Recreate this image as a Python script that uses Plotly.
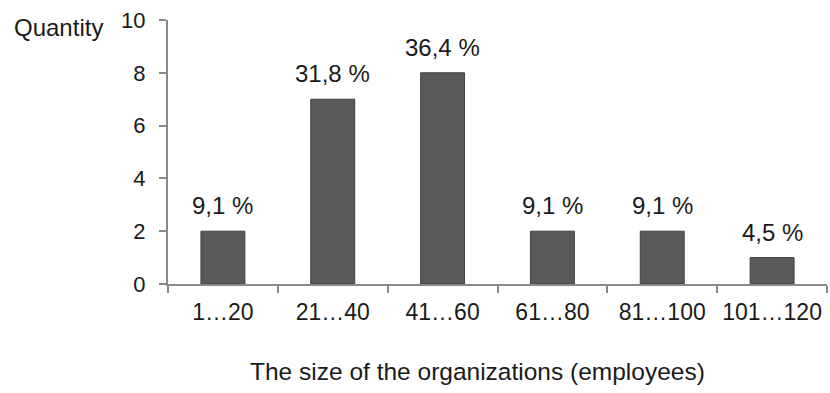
import plotly.graph_objects as go

# Organization size groups (number of employees) and counts
size_groups = ["1…20", "21…40", "41…60", "61…80", "81…100", "101…120"]
quantities = [2, 7, 8, 2, 2, 1]
share_labels = ["9,1 %", "31,8 %", "36,4 %", "9,1 %", "9,1 %", "4,5 %"]

FONT = "Liberation Sans, Arial, sans-serif"
AXIS_GRAY = "#8a8a8a"
TEXT = "#1a1a1a"

fig = go.Figure()
fig.add_trace(go.Bar(
    x=size_groups,
    y=quantities,
    marker=dict(color="#595959", line=dict(color="#404040", width=1)),
    width=0.4,
    hoverinfo="skip",
))

# Percentage share above each bar
for g, q, lab in zip(size_groups, quantities, share_labels):
    fig.add_annotation(
        x=g, y=q, text=lab, showarrow=False,
        yanchor="bottom", yshift=10,
        font=dict(family=FONT, size=24, color=TEXT),
    )

# Axis captions
fig.add_annotation(
    xref="paper", yref="paper", x=(12 - 168) / 659, y=1.0, xanchor="left",
    yanchor="middle", yshift=-7, text="Quantity", showarrow=False,
    font=dict(family=FONT, size=24, color=TEXT),
)
fig.add_annotation(
    xref="paper", yref="paper", x=(477 - 168) / 659, y=0, xanchor="center",
    yanchor="middle", yshift=-87, text="The size of the organizations (employees)",
    showarrow=False, font=dict(family=FONT, size=24.5, color=TEXT),
)

fig.update_layout(
    width=830, height=393,
    margin=dict(l=168, r=3, t=20, b=109),
    paper_bgcolor="white", plot_bgcolor="white",
    showlegend=False,
    font=dict(family=FONT, size=23, color=TEXT),
    xaxis=dict(
        type="category",
        showline=True, linecolor=AXIS_GRAY, linewidth=2,
        ticks="outside", tickson="boundaries", ticklen=7,
        tickcolor=AXIS_GRAY, tickwidth=2,
        showgrid=False, zeroline=False,
        tickfont=dict(family=FONT, size=23, color=TEXT),
        ticklabelstandoff=6,
    ),
    yaxis=dict(
        range=[0, 10], tickvals=[0, 2, 4, 6, 8, 10],
        showline=True, linecolor=AXIS_GRAY, linewidth=2,
        ticks="outside", ticklen=7, tickcolor=AXIS_GRAY, tickwidth=2,
        showgrid=False, zeroline=False,
        tickfont=dict(family=FONT, size=22, color=TEXT),
        ticklabelstandoff=9,
    ),
)

fig.write_html("out.html")
